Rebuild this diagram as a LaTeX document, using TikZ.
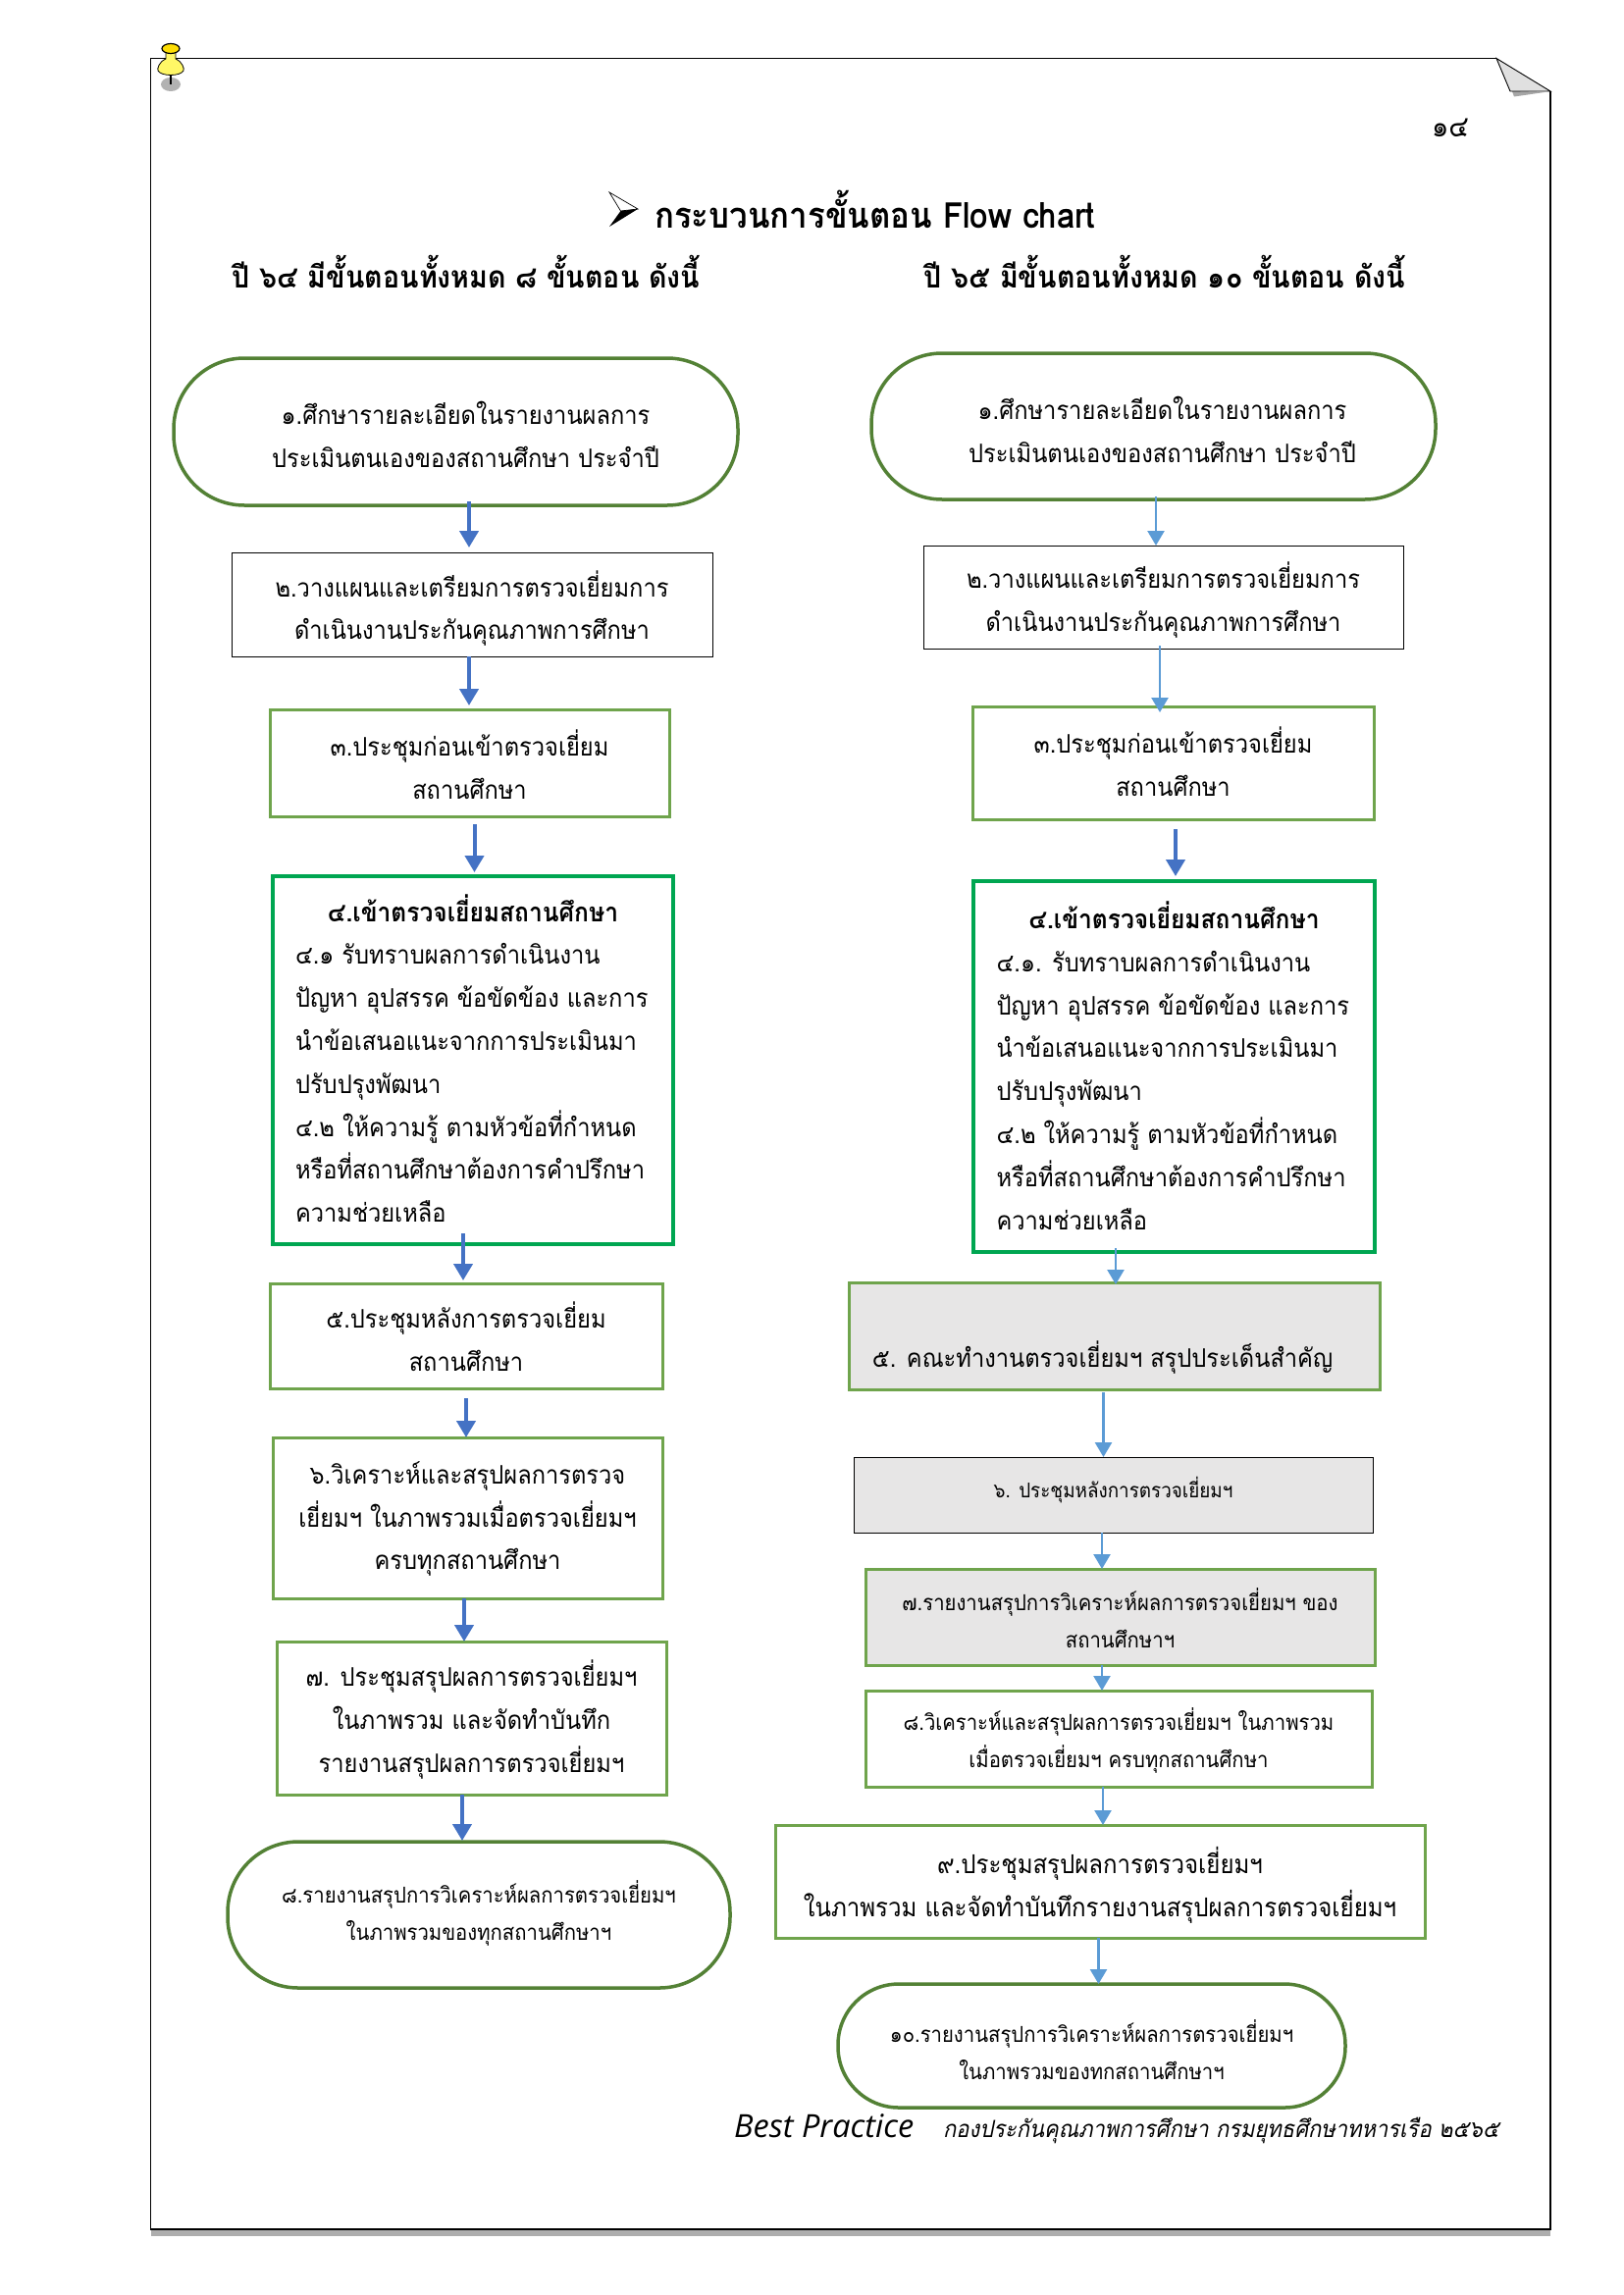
\documentclass[tikz,border=0pt]{standalone}
\usepackage{fontspec}
\usetikzlibrary{arrows.meta,calc}
\setmainfont[Script=Thai,FakeStretch=0.91]{Loma}
\newfontfamily\thaiit[Script=Thai,FakeSlant=0.2,FakeStretch=0.91]{Loma}
\newfontfamily\latinit{Open Sans Italic}
\definecolor{ovalgreen}{HTML}{538135}
\definecolor{boxgreen}{HTML}{6FA44C}
\definecolor{deepgreen}{HTML}{00A651}
\definecolor{arrowdark}{HTML}{4472C4}
\definecolor{arrowlight}{HTML}{5B9BD5}
\definecolor{panelgray}{HTML}{E7E6E6}
% name, style, x1,y1,x2,y2, text dx, text dy, text
\newcommand\flowbox[9]{\node[#2,minimum width={(#5)-(#3)},minimum height={(#6)-(#4)}] (#1) at ({((#3)+(#5))/2},{((#4)+(#6))/2}) {};
 \node[#2,draw=none,fill=none,xshift=#7pt,yshift=-#8pt] (#1t) at (#1.center) {#9};}
% style, from, x, from dy (up), to, to dy (up)
\newcommand\conn[6]{\draw[#1] ([yshift=#4pt]#2.south -| #3,0) -- ([yshift=#6pt]#5.north -| #3,0);}
\newcommand\boxhead[1]{\makebox[362pt][c]{\fontsize{27}{43.8}\selectfont\bfseries #1}}
\tikzset{x=1pt,y=-1pt,
 base/.style={rectangle,draw,inner sep=0pt,outer sep=0pt,align=center,font=\fontsize{26}{43.8}\selectfont},
 oval/.style={base,draw=ovalgreen,line width=3.5pt,rounded corners=72pt},
 plainbox/.style={base,draw=black,line width=1pt},
 greenbox/.style={base,draw=boxgreen,line width=3pt},
 bigbox/.style={base,draw=deepgreen,line width=4.5pt,align=left},
 graybox/.style={greenbox,fill=panelgray},
 small/.style={font=\fontsize{22.3}{37.5}\selectfont},
 darrow/.style={draw=arrowdark,line width=4pt,-{Triangle[length=17pt,width=19pt]}},
 larrow/.style={draw=arrowlight,line width=2.5pt,-{Triangle[length=15pt,width=17pt]}},
 head/.style={inner sep=0pt,font=\fontsize{31.4}{36}\selectfont\bfseries},
}
\begin{document}
\begin{tikzpicture}
\useasboundingbox (0,0) rectangle (1654,2339);
\fill[white] (0,0) rectangle (1654,2339);
% page with folded corner
\fill[black!32] (153.5,2272) rectangle (1580,2279);
\draw[line width=1.2pt] (1525,59.5) -- (153.5,59.5) -- (153.5,2272) -- (1580,2272) -- (1580,93);
\fill[black!35] (1541,93) -- (1543,98.5) -- (1574,94) -- cycle;
\draw[line width=0.9pt,fill=black!12] (1525,59.5) -- (1580,93) -- (1539,93) -- cycle;
% pin
\fill[black!30] (174,86) ellipse (10 and 7);
\draw[line width=2.5pt] (174,76) -- (174,86);
\draw[line width=0.8pt,fill=yellow!60] (169,52) -- (179,52) -- (179,60) .. controls (186,63) and (188,70) .. (187,72) .. controls (184,78) and (164,78) .. (161,72) .. controls (160,70) and (162,63) .. (169,60) -- cycle;
\draw[line width=1.2pt,fill=yellow!80!orange] (174,49.5) ellipse (9 and 5);
% page number, title bullet, titles
\node[inner sep=0pt,font=\fontsize{30}{32}\selectfont] (pageno) at (1478,130) {๑๔};
\draw[line width=0.7pt,fill=white] (621,196) -- (650,213) -- (632.5,215) -- cycle;
\fill[black] (621,231) -- (650,213) -- (632.5,215) -- cycle;
\node[head,anchor=west,font=\fontsize{36.3}{38}\selectfont\bfseries] (title) at (667,213) {กระบวนการขั้นตอน Flow chart};
\node[head] (headL) at (475,276.5) {ปี ๖๔ มีขั้นตอนทั้งหมด ๘ ขั้นตอน ดังนี้};
\node[head] (headR) at (1187,276.5) {ปี ๖๕ มีขั้นตอนทั้งหมด ๑๐ ขั้นตอน ดังนี้};
% left column
\flowbox{a1}{oval}{177}{365}{752}{515}{10}{3}{๑.ศึกษารายละเอียดในรายงานผลการ\\ประเมินตนเองของสถานศึกษา ประจำปี}
\flowbox{a2}{plainbox}{236}{563}{726}{669}{0}{4}{๒.วางแผนและเตรียมการตรวจเยี่ยมการ\\ดำเนินงานประกันคุณภาพการศึกษา}
\flowbox{a3}{greenbox}{275}{723}{682}{832}{0}{1.5}{๓.ประชุมก่อนเข้าตรวจเยี่ยม\\สถานศึกษา}
\flowbox{a4}{bigbox}{278}{893}{686}{1268}{0}{-2}{\boxhead{๔.เข้าตรวจเยี่ยมสถานศึกษา}\\๔.๑ รับทราบผลการดำเนินงาน\\ปัญหา อุปสรรค ข้อขัดข้อง และการ\\นำข้อเสนอแนะจากการประเมินมา\\ปรับปรุงพัฒนา\\๔.๒ ให้ความรู้ ตามหัวข้อที่กำหนด\\หรือที่สถานศึกษาต้องการคำปรึกษา\\ความช่วยเหลือ}
\flowbox{a5}{greenbox}{275}{1308}{675}{1415}{0}{1}{๕.ประชุมหลังการตรวจเยี่ยม\\สถานศึกษา}
\flowbox{a6}{greenbox}{278}{1465}{675}{1629}{0}{1}{๖.วิเคราะห์และสรุปผลการตรวจ\\เยี่ยมฯ ในภาพรวมเมื่อตรวจเยี่ยมฯ\\ครบทุกสถานศึกษา}
\flowbox{a7}{greenbox}{282}{1673}{679}{1829}{0}{1.5}{๗. ประชุมสรุปผลการตรวจเยี่ยมฯ\\ในภาพรวม และจัดทำบันทึก\\รายงานสรุปผลการตรวจเยี่ยมฯ}
\flowbox{a8}{oval,small}{232}{1877}{744}{2026}{0}{-1.5}{๘.รายงานสรุปการวิเคราะห์ผลการตรวจเยี่ยมฯ\\ในภาพรวมของทุกสถานศึกษาฯ}
% right column
\flowbox{b1}{oval}{888}{360}{1463}{509}{9}{3}{๑.ศึกษารายละเอียดในรายงานผลการ\\ประเมินตนเองของสถานศึกษา ประจำปี}
\flowbox{b2}{plainbox}{941}{556}{1430}{661}{0}{3}{๒.วางแผนและเตรียมการตรวจเยี่ยมการ\\ดำเนินงานประกันคุณภาพการศึกษา}
\flowbox{b3}{greenbox}{991}{720}{1400}{835}{0}{-1.5}{๓.ประชุมก่อนเข้าตรวจเยี่ยม\\สถานศึกษา}
\flowbox{b4}{bigbox}{992}{898}{1401}{1276}{0}{-1}{\boxhead{๔.เข้าตรวจเยี่ยมสถานศึกษา}\\๔.๑. รับทราบผลการดำเนินงาน\\ปัญหา อุปสรรค ข้อขัดข้อง และการ\\นำข้อเสนอแนะจากการประเมินมา\\ปรับปรุงพัฒนา\\๔.๒ ให้ความรู้ ตามหัวข้อที่กำหนด\\หรือที่สถานศึกษาต้องการคำปรึกษา\\ความช่วยเหลือ}
\flowbox{b5}{graybox}{865}{1307}{1406}{1416}{-12}{13.5}{\mbox{}\\๕. คณะทำงานตรวจเยี่ยมฯ สรุปประเด็นสำคัญ}
\flowbox{b6}{plainbox,fill=panelgray,font=\fontsize{20.7}{36}\selectfont}{870}{1485}{1399}{1562}{0}{-4.5}{๖. ประชุมหลังการตรวจเยี่ยมฯ}
\flowbox{b7}{graybox,small}{882}{1599}{1401}{1697}{0}{1}{๗.รายงานสรุปการวิเคราะห์ผลการตรวจเยี่ยมฯ ของ\\สถานศึกษาฯ}
\flowbox{b8}{greenbox,small}{882}{1723}{1398}{1821}{0}{2}{๘.วิเคราะห์และสรุปผลการตรวจเยี่ยมฯ ในภาพรวม\\เมื่อตรวจเยี่ยมฯ ครบทุกสถานศึกษา}
\flowbox{b9}{greenbox,font=\fontsize{26.4}{43.8}\selectfont}{790}{1860}{1452}{1975}{0}{4}{๙.ประชุมสรุปผลการตรวจเยี่ยมฯ\\ในภาพรวม และจัดทำบันทึกรายงานสรุปผลการตรวจเยี่ยมฯ}
\flowbox{b10}{oval,small,rounded corners=62pt}{854}{2022}{1371}{2148}{0}{4}{๑๐.รายงานสรุปการวิเคราะห์ผลการตรวจเยี่ยมฯ\\ในภาพรวมของทกสถานศึกษาฯ}
% connectors
\conn{darrow}{a1}{478}{4}{a2}{5}
\conn{darrow}{a2}{478}{0}{a3}{4}
\conn{darrow}{a3}{483.5}{-8}{a4}{4}
\conn{darrow}{a4}{472}{11}{a5}{3}
\conn{darrow}{a5}{475}{-10}{a6}{0}
\conn{darrow}{a6}{473}{0}{a7}{0}
\conn{darrow}{a7}{471}{0}{a8}{1}
\conn{larrow}{b1}{1178}{3}{b2}{0}
\conn{larrow}{b2}{1182}{3}{b3}{-6}
\conn{darrow}{b3}{1198}{-10}{b4}{5}
\conn{larrow}{b4}{1137}{4}{b5}{-2}
\conn{larrow}{b5}{1124.5}{-3}{b6}{0}
\conn{larrow}{b6}{1123}{0}{b7}{0}
\conn{larrow}{b7}{1123}{0}{b8}{0}
\conn{larrow}{b8}{1124}{0}{b9}{0}
\conn{larrow}{b9}{1119.5}{0}{b10}{0}
% footer
\node[inner sep=0pt,anchor=base west,font=\fontsize{32.5}{36}\selectfont\latinit] (bp) at (748,2178) {Best Practice};
\node[inner sep=0pt,anchor=base west,font=\fontsize{24.1}{30}\selectfont\thaiit] (org) at (961,2178) {กองประกันคุณภาพการศึกษา กรมยุทธศึกษาทหารเรือ ๒๕๖๕};
\end{tikzpicture}
\end{document}
